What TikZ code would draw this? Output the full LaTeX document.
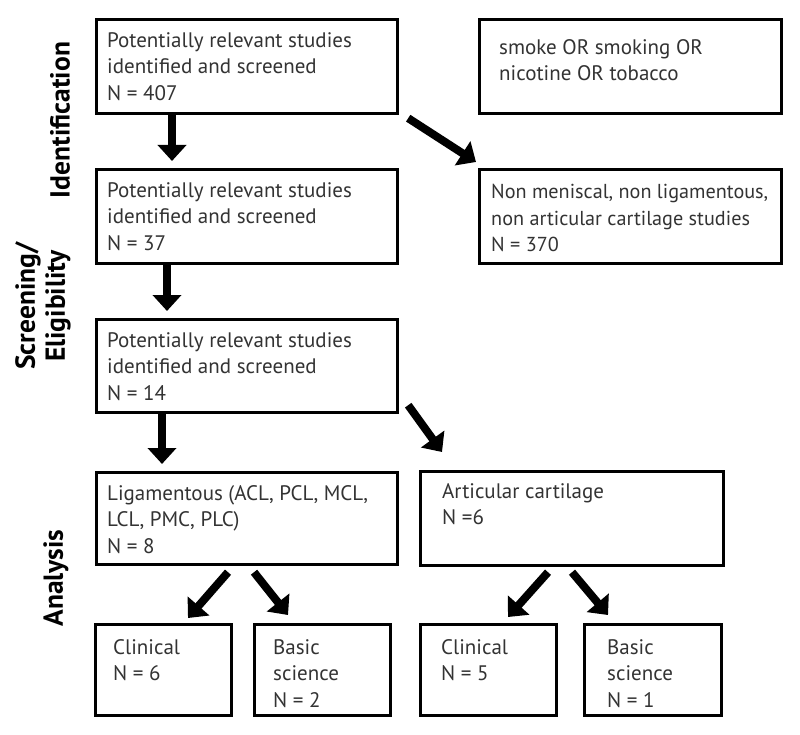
\documentclass[tikz,border=0pt]{standalone}
\usepackage{fontspec}
\setmainfont{PT Sans}
\usepackage{tikz}
\usetikzlibrary{arrows.meta,positioning}

\tikzset{
box/.style={
draw=black,
line width=3.2pt,
anchor=north west,
inner sep=0pt
},
txt/.style={
anchor=north west,
align=left,
inner sep=0pt,
text=black!80,
font=\fontsize{21}{26.5}\selectfont
},
phase/.style={
rotate=90,
align=center,
font=\fontsize{27.5}{30}\selectfont\bfseries
},
arr/.style={
line width=8pt,
-{Triangle[width=28pt,length=16pt]}
}
}

\begin{document}
\begin{tikzpicture}[x=1pt,y=-1pt]

\fill[white] (0,0) rectangle (800,735);

% phases
\node[phase] (idlab) at (60,120) {Identification};
\node[phase] (scrlab) at (43,306) {Screening/\\Eligibility};
\node[phase] (analab) at (56,578) {Analysis};

% main column
\node[box,minimum width=301pt,minimum height=94pt] (a) at (95,18) {};
\node[txt] (atxt) at ([shift={(12,14)}]a.north west) {Potentially relevant studies\\identified and screened\\N = 407};

\node[box,minimum width=301pt,minimum height=94pt] (b) at (95,168) {};
\node[txt] (btxt) at ([shift={(12,14)}]b.north west) {Potentially relevant studies\\identified and screened\\N = 37};

\node[box,minimum width=301pt,minimum height=93pt] (c) at (95,318) {};
\node[txt] (ctxt) at ([shift={(12,14)}]c.north west) {Potentially relevant studies\\identified and screened\\N = 14};

\node[box,minimum width=301pt,minimum height=92pt] (d) at (95,471) {};
\node[txt] (dtxt) at ([shift={(12,14)}]d.north west) {Ligamentous (ACL, PCL, MCL,\\LCL, PMC, PLC)\\N = 8};

% right column
\node[box,minimum width=302pt,minimum height=94pt] (s) at (478,18) {};
\node[txt] (stxt) at ([shift={(21,21)}]s.north west) {smoke OR smoking OR\\nicotine OR tobacco};

\node[box,minimum width=302pt,minimum height=94pt] (e) at (478,168) {};
\node[txt,font=\fontsize{20.2}{26.5}\selectfont] (etxt) at ([shift={(13,16)}]e.north west) {Non meniscal, non ligamentous,\\non articular cartilage studies\\N = 370};

\node[box,minimum width=303pt,minimum height=94pt] (f) at (419,470) {};
\node[txt] (ftxt) at ([shift={(23,13)}]f.north west) {Articular cartilage\\N =6};

% bottom row
\node[box,minimum width=136pt,minimum height=91pt] (g1) at (94,623) {};
\node[txt] (g1txt) at ([shift={(19,16)}]g1.north west) {Clinical\\N = 6};

\node[box,minimum width=136pt,minimum height=91pt] (g2) at (253,623) {};
\node[txt] (g2txt) at ([shift={(20,16)}]g2.north west) {Basic\\science\\N = 2};

\node[box,minimum width=136pt,minimum height=91pt] (h1) at (419,623) {};
\node[txt] (h1txt) at ([shift={(22,16)}]h1.north west) {Clinical\\N = 5};

\node[box,minimum width=137pt,minimum height=91pt] (h2) at (583,623) {};
\node[txt] (h2txt) at ([shift={(24,16)}]h2.north west) {Basic\\science\\N = 1};

% arrows
\draw[arr] ([xshift=77pt]a.south west) -- ([xshift=77pt,yshift=7pt]b.north west);
\draw[arr] ([xshift=72pt]b.south west) -- ([xshift=72pt,yshift=7pt]c.north west);
\draw[arr] ([xshift=67pt]c.south west) -- ([xshift=67pt,yshift=7pt]d.north west);
\draw[arr] ([shift={(9,3)}]a.south east) -- ([shift={(-2,-6)}]e.north west);
\draw[arr] ([shift={(9,-9)}]c.south east) -- ([shift={(23,-18)}]f.north west);
\draw[arr] ([shift={(133,6)}]d.south west) -- ([shift={(94,-5)}]g1.north west);
\draw[arr] ([shift={(159,6)}]d.south west) -- ([shift={(35,-8)}]g2.north west);
\draw[arr] ([shift={(129,5)}]f.south west) -- ([shift={(89,-6)}]h1.north west);
\draw[arr] ([shift={(153,5)}]f.south west) -- ([shift={(25,-8)}]h2.north west);

\end{tikzpicture}
\end{document}
